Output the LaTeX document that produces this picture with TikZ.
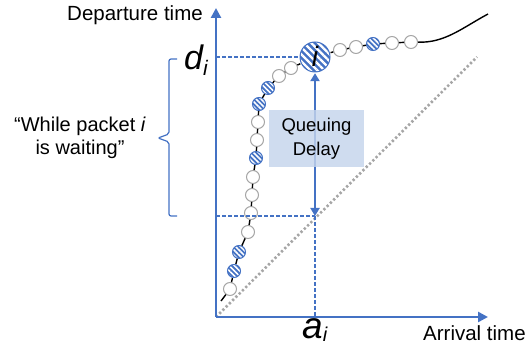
\documentclass[tikz,border=0pt]{standalone}
\usepackage{fontspec}
\setmainfont{Liberation Sans}
\usetikzlibrary{arrows.meta,patterns.meta}
\definecolor{axblue}{HTML}{4472C4}
\definecolor{boxblue}{HTML}{C5D4EC}
\definecolor{ringgray}{HTML}{A6A6A6}
\tikzset{
 axis/.style={axblue, line width=2.6pt, -{Triangle[width=10pt,length=10pt]}},
 guide/.style={axblue, line width=1.1pt, dash pattern=on 4pt off 2pt},
 diag/.style={ringgray, line width=2.6pt, dash pattern=on 2.3pt off 2.3pt},
 pktw/.style={circle, draw=ringgray, fill=white, line width=1pt, minimum size=13pt, inner sep=0pt},
 pkth/.style={circle, draw=axblue, line width=1pt, minimum size=13pt, inner sep=0pt,
   preaction={fill=axblue}, pattern={Lines[angle=-45,distance=3.6pt,line width=1.6pt]}, pattern color=white},
 pktbig/.style={pkth, minimum size=30pt, pattern={Lines[angle=-45,distance=5pt,line width=2.3pt]}},
 chain/.style={black, line width=1.4pt},
 lbl/.style={inner sep=0pt, font=\fontsize{20.5}{22}\selectfont},
}
\begin{document}
\begin{tikzpicture}[x=1pt,y=-1pt]
\useasboundingbox (0,0) rectangle (530,347);
% axes coordinates
\coordinate (O) at (216,317);
\coordinate (ytop) at (216,8);
\coordinate (xend) at (488,317);
\coordinate (dlev) at (216,57);
\coordinate (alev) at (216,216);
\coordinate (qa) at (315,216);
\coordinate (abot) at (315,317);
\coordinate (diagend) at (477,57);
\coordinate (start) at (221,301);
\coordinate (tail) at (488,14);
% diagonal
\draw[diag] (O) -- (diagend);
% packets
\node[pktw] (c1) at (230,289) {};
\node[pkth] (c2) at (234,271) {};
\node[pkth] (c3) at (239,252) {};
\node[pktw] (c4) at (248,232) {};
\node[pktw] (c5) at (251,213) {};
\node[pktw] (c6) at (252,195) {};
\node[pktw] (c7) at (253,177) {};
\node[pkth] (c8) at (256,158) {};
\node[pktw] (c9) at (257,140) {};
\node[pktw] (c10) at (258,122) {};
\node[pkth] (c11) at (259,104) {};
\node[pkth] (c12) at (268,88) {};
\node[pktw] (c13) at (279,76) {};
\node[pktw] (c14) at (291,68) {};
\node[pktbig] (big) at (315,57) {};
\node[inner sep=0pt, font=\fontsize{28}{28}\selectfont\itshape] (ilbl) at (315,56) {i};
\node[pktw] (c15) at (340,50) {};
\node[pktw] (c16) at (356,47) {};
\node[pkth] (c17) at (373,44) {};
\node[pktw] (c18) at (392,43) {};
\node[pktw] (c19) at (411,42) {};
% chain
\draw[chain] (start) -- (c1) -- (c2) -- (c3) -- (c4) -- (c5) -- (c6) -- (c7) -- (c8) -- (c9) -- (c10) -- (c11) -- (c12) -- (c13) -- (c14) -- (big) -- (c15) -- (c16) -- (c17) -- (c18) -- (c19);
\draw[chain] (c19) .. controls (445,43) and (462,28) .. (tail);
% guides
\draw[guide] (dlev) -- (big);
\draw[guide] (alev) -- (qa);
\draw[guide] (qa) -- (abot);
% axes
\draw[axis] (O) -- (ytop);
\draw[axis] (O) -- (xend);
% queuing delay
\draw[axblue, line width=2pt, {Triangle[width=9pt,length=8pt]}-{Triangle[width=9pt,length=8pt]}] (big) -- (qa);
\node[fill=boxblue, fill opacity=0.82, text opacity=1, minimum width=95pt, minimum height=57pt, inner sep=0pt, align=center, font=\fontsize{18.5}{23.5}\selectfont] (qd) at (316.5,138.5) {Queuing\\Delay};
% labels
\node[lbl, anchor=base east] (dep) at (203,21) {Departure time};
\node[lbl, anchor=base west] (arr) at (423,341) {Arrival time};
\node[inner sep=0pt, anchor=base west, font=\fontsize{34}{34}\selectfont\itshape] (di) at (184,70) {d\raisebox{-6pt}{\fontsize{21}{21}\selectfont i}};
\node[inner sep=0pt, anchor=base west, font=\fontsize{37}{37}\selectfont\itshape] (ai) at (302,338) {a\raisebox{-3pt}{\fontsize{20}{20}\selectfont i}};
% brace
\draw[axblue, line width=1.2pt, rounded corners=2pt] (177,59) -- (169,59) -- (169,134) -- (158,138) -- (169,142) -- (169,216) -- (177,216);
\node[align=center, inner sep=0pt, font=\fontsize{20}{23}\selectfont] (wait) at (80,138) {“While packet \textit{i}\\is waiting”};
\end{tikzpicture}
\end{document}
